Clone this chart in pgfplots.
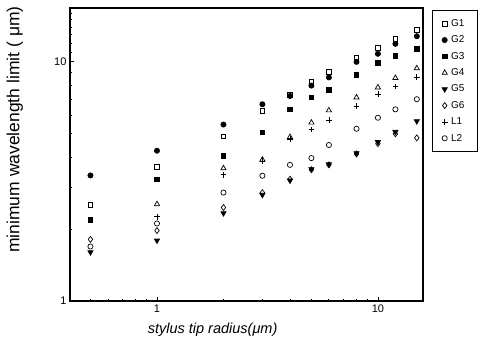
\documentclass[border=0pt]{standalone}
\usepackage{pgfplots}
\pgfplotsset{compat=1.18}
\usepackage{fontspec}
\setmainfont{Liberation Sans}
\begin{document}
\begin{tikzpicture}[x=1pt,y=1pt]
\useasboundingbox (-70,-49) rectangle (411,301);
\begin{axis}[
  at={(0,0)}, anchor=south west,
  scale only axis, width=353pt, height=293pt,
  xmode=log, ymode=log,
  xmin=0.404, xmax=16.0, ymin=1, ymax=16.8,
  xtick={1,10}, xticklabels={1,10},
  ytick={1,10}, yticklabels={1,10},
  minor xtick={0.5,0.6,0.7,0.8,0.9,2,3,4,5,6,7,8,9},
  minor ytick={2,3,4,5,6,7,8,9,11,12,13,14,15,16},
  xtick pos=bottom, ytick pos=left,
  tick align=inside,
  major tick length=4pt, minor tick length=2.5pt,
  axis line style={line width=1.2pt},
  every tick/.style={line width=0.8pt, black},
  /pgf/number format/assume math mode=true,
  tick label style={font=\fontsize{11}{13}\selectfont},
  xlabel={stylus tip radius(μm)},
  ylabel={minimum wavelength limit ( μm)},
  xlabel style={font=\fontsize{14.5}{17}\selectfont\itshape, at={(axis description cs:0.404,-0.099)}, anchor=center},
  ylabel style={font=\fontsize{17.5}{20}\selectfont, at={(axis description cs:-0.156,0.585)}, anchor=center, rotate=0},
  legend style={at={(axis description cs:1.0255,0.993)}, anchor=north west, draw=black, line width=0.8pt,
    font=\fontsize{10}{12}\selectfont, row sep=3.9pt, inner xsep=9.5pt, inner ysep=7pt,
    nodes={inner xsep=3.5pt}},
  legend image code/.code={\draw[#1] plot coordinates {(0pt,0pt)};},
  legend cell align=left,
  every axis plot/.append style={only marks, black, mark size=2.4pt, line width=0.7pt},
]
% G1 open square
\addplot[mark=square, mark size=2.3pt] coordinates {(0.5,2.52)(1,3.63)(2,4.89)(3,6.23)(4,7.26)(5,8.26)(6,9.10)(8,10.46)(10,11.42)(12,12.5)(15,13.6)};
\addlegendentry{G1}
% G2 filled circle
\addplot[mark=*, mark size=2.6pt] coordinates {(0.5,3.35)(1,4.25)(2,5.47)(3,6.65)(4,7.2)(5,7.96)(6,8.61)(8,10.0)(10,10.81)(12,11.9)(15,12.8)};
\addlegendentry{G2}
% G3 filled square
\addplot[mark=square*, mark size=2.3pt] coordinates {(0.5,2.19)(1,3.23)(2,4.05)(3,5.08)(4,6.33)(5,7.10)(6,7.62)(8,8.81)(10,9.9)(12,10.57)(15,11.35)};
\addlegendentry{G3}
% G4 open triangle
\addplot[mark=triangle, mark size=3pt] coordinates {(1,2.54)(2,3.59)(3,3.90)(4,4.85)(5,5.57)(6,6.27)(8,7.10)(10,7.82)(12,8.56)(15,9.40)};
\addlegendentry{G4}
% G5 filled down triangle
\addplot[mark=triangle*, mark size=3pt, mark options={rotate=180}] coordinates {(0.5,1.60)(1,1.79)(2,2.33)(3,2.78)(4,3.19)(5,3.56)(6,3.73)(8,4.15)(10,4.62)(12,5.1)(15,5.65)};
\addlegendentry{G5}
% G6 open diamond
\addplot[mark=diamond, mark size=3pt] coordinates {(0.5,1.81)(1,1.97)(2,2.46)(3,2.84)(4,3.23)(5,3.54)(6,3.71)(8,4.12)(10,4.55)(12,5.0)(15,4.81)};
\addlegendentry{G6}
% L1 plus
\addplot[mark=+, mark size=2.8pt] coordinates {(1,2.25)(2,3.37)(3,3.85)(4,4.75)(5,5.21)(6,5.71)(8,6.54)(10,7.33)(12,7.89)(15,8.62)};
\addlegendentry{L1}
% L2 open circle
\addplot[mark=o, mark size=2.6pt] coordinates {(0.5,1.69)(1,2.11)(2,2.84)(3,3.34)(4,3.71)(5,3.96)(6,4.49)(8,5.25)(10,5.84)(12,6.33)(15,6.98)};
\addlegendentry{L2}
\end{axis}
\end{tikzpicture}
\end{document}
